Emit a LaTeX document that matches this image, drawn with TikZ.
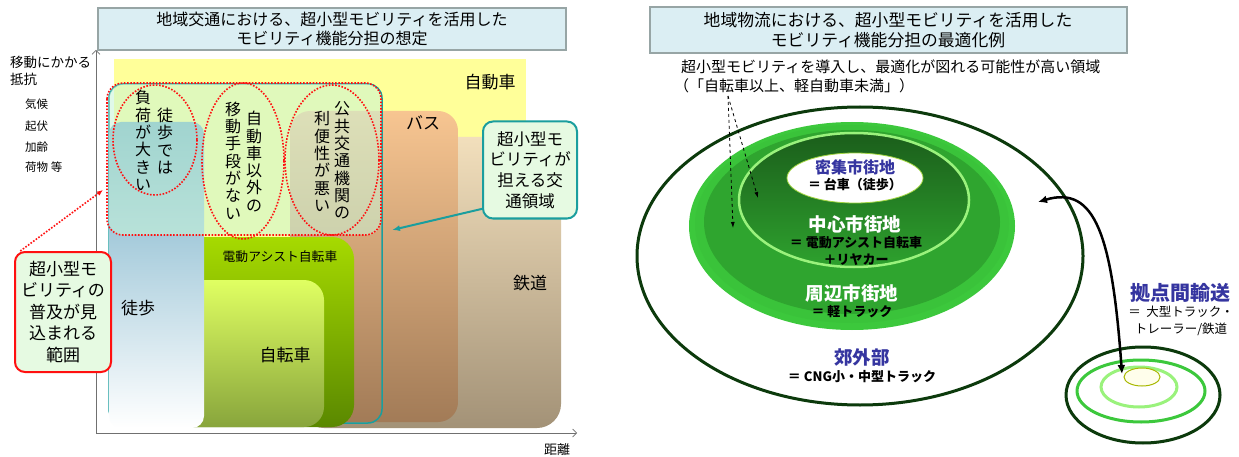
\documentclass[tikz,border=0pt]{standalone}
\usepackage{fontspec}
\setmainfont{Noto Sans CJK JP}
\usetikzlibrary{arrows.meta,shapes.geometric}
\definecolor{ttlfill}{HTML}{DBEEF3}
\definecolor{ttldraw}{HTML}{97A5A5}
\definecolor{yel}{HTML}{FFFF99}
\definecolor{railT}{HTML}{F2DFBC}
\definecolor{railB}{HTML}{A39277}
\definecolor{busT}{HTML}{F7C591}
\definecolor{busB}{HTML}{A27B57}
\definecolor{ebT}{HTML}{A6DA00}
\definecolor{ebB}{HTML}{5A8800}
\definecolor{bkT}{HTML}{E0FF62}
\definecolor{bkB}{HTML}{88A53C}
\definecolor{wk}{HTML}{7EC0DC}
\definecolor{ovl}{HTML}{C8F5D8}
\definecolor{tealc}{HTML}{1A9E9E}
\definecolor{redc}{HTML}{FF1010}
\definecolor{callfill}{HTML}{E6FAE2}
\definecolor{axc}{HTML}{707070}
\definecolor{dkg}{HTML}{0C3A0C}
\definecolor{brg}{HTML}{3CC83C}
\definecolor{gmid}{HTML}{2FA52F}
\definecolor{ltg}{HTML}{9AF27C}
\definecolor{ringT}{HTML}{1B5E1B}
\definecolor{ringB}{HTML}{2EA22E}
\definecolor{bluet}{HTML}{3535A0}
\definecolor{olv}{HTML}{A8B800}
\tikzset{
  ttl/.style={draw=ttldraw, line width=2, fill=ttlfill, align=center, inner sep=0},
  lbl/.style={inner sep=0, font=\fontsize{17}{19}\selectfont},
  vt/.style={inner sep=0, align=center, font=\fontsize{16}{17.3}\selectfont},
  small/.style={inner sep=0, anchor=west, font=\fontsize{11.5}{13}\selectfont},
  reddot/.style={draw=redc, line width=1.6, dash pattern=on 1.6pt off 1.6pt},
  callT/.style={draw=tealc, line width=2, fill=callfill, rounded corners=10, align=center, inner sep=0, font=\fontsize{16.5}{20.7}\selectfont},
  callR/.style={draw=redc, line width=2, fill=callfill, rounded corners=10, align=center, inner sep=0, font=\fontsize{17}{21.5}\selectfont},
  axis/.style={draw=axc, line width=0.7, -{Straight Barb[length=4pt,width=8pt]}},
  dasharrow/.style={draw=black, line width=0.8, dashed, -{Latex[length=6pt,width=4pt]}},
  wlbl/.style={inner sep=0, text=white, font=\bfseries\fontsize{18.5}{20}\selectfont},
  blbl/.style={inner sep=0, text=bluet, font=\bfseries\fontsize{18.5}{20}\selectfont},
  klbl/.style={inner sep=0, text=black, align=center, font=\bfseries\fontsize{13}{16.5}\selectfont}
}
\begin{document}
\begin{tikzpicture}[x=1pt,y=-1pt]
\useasboundingbox (0,0) rectangle (1239,457);
\fill[white] (0,0) rectangle (1239,457);

% ---------------- left diagram ----------------
\node[ttl, minimum width=468, minimum height=42, font=\fontsize{16}{19}\selectfont] (tl) at (332,29)
  {地域交通における、超小型モビリティを活用した\\モビリティ機能分担の想定};

\coordinate (O) at (96,433);
\coordinate (Ytop) at (96,50);
\coordinate (Xend) at (577,433);
\draw[axis] (O) -- (Ytop);
\draw[axis] (O) -- (Xend);
\node[inner sep=0, font=\fontsize{13}{15}\selectfont] (dist) at (557,450) {距離};
\node[inner sep=0, anchor=west, font=\fontsize{13.5}{15}\selectfont] (res1) at (10,62) {移動にかかる};
\node[inner sep=0, anchor=west, font=\fontsize{13.5}{15}\selectfont] (res2) at (10,79) {抵抗};
\node[small] (f1) at (25,104) {気候};
\node[small] (f2) at (25,126) {起伏};
\node[small] (f3) at (25,147) {加齢};
\node[small] (f4) at (25,167) {荷物 等};

% mode areas
\fill[yel] (114,59) rectangle (526,300);
\shade[top color=railT, bottom color=railB, rounded corners=24] (300,137) rectangle (561,428);
\shade[top color=busT, bottom color=busB, rounded corners=20] (290,111) rectangle (458,422);
\draw[tealc, line width=1.5, rounded corners=14] (109,84) rectangle (382,423);
\shade[top color=ebT, bottom color=ebB, rounded corners=22] (130,237) rectangle (354,427);
\shade[top color=bkT, bottom color=bkB, rounded corners=20] (130,280) rectangle (324,427);
\shade[top color=wk!90!black, middle color=wk, bottom color=white, rounded corners=12] (109,122) rectangle (204,428);
\fill[ovl, opacity=0.55, rounded corners=14] (109,84) rectangle (381,235);
\draw[reddot, rounded corners=16] (107,83) rectangle (381,235);
\draw[reddot] (155,140) ellipse (42 and 55);
\draw[reddot] (243,161) ellipse (41 and 78);
\draw[reddot] (332,160) ellipse (47 and 75);

\node[lbl] (car) at (490,82) {自動車};
\node[lbl] (bus) at (423,123) {バス};
\node[lbl] (rail) at (530,283) {鉄道};
\node[lbl] (walk) at (138,308) {徒歩};
\node[lbl] (bike) at (285,355) {自転車};
\node[inner sep=0, font=\fontsize{12.8}{14}\selectfont] (ebike) at (280,257) {電動アシスト自転車};

\node[vt] (v1a) at (143,140.5) {負\\荷\\が\\大\\き\\い};
\node[vt] (v1b) at (165,141) {徒\\歩\\で\\は};
\node[vt] (v2a) at (233,160.5) {移\\動\\手\\段\\が\\な\\い};
\node[vt] (v2b) at (254,161.5) {自\\動\\車\\以\\外\\の};
\node[vt] (v3a) at (322,161.5) {利\\便\\性\\が\\悪\\い};
\node[vt] (v3b) at (342,160.5) {公\\共\\交\\通\\機\\関\\の};

\node[callT, minimum width=94, minimum height=97] (tc) at (530,170) {超小型モ\\ビリティが\\担える交\\通領域};
\coordinate (tcTip) at (392,230);
\draw[tealc, line width=2, -{Latex[length=8pt,width=6pt]}] (tc.-141) -- (tcTip);

\node[callR, minimum width=96, minimum height=120] (rc) at (63,312) {超小型モ\\ビリティの\\普及が見\\込まれる\\範囲};
\coordinate (rcTip) at (103,190);
\draw[reddot, -{Latex[length=6pt,width=5pt]}] (rc.125.6) -- (rcTip);

% ---------------- right diagram ----------------
\node[ttl, minimum width=477, minimum height=46, font=\fontsize{16.8}{20}\selectfont] (tr) at (888,30)
  {地域物流における、超小型モビリティを活用した\\モビリティ機能分担の最適化例};
\node[inner sep=0, anchor=west, font=\fontsize{15}{17}\selectfont] (sub1) at (681,67) {超小型モビリティを導入し、最適化が図れる可能性が高い領域};
\node[inner sep=0, anchor=west, font=\fontsize{15}{17}\selectfont] (sub2) at (674,86) {（「自転車以上、軽自動車未満」）};

\draw[dkg, line width=3] (860,256) ellipse (223 and 149);
\fill[brg] (852,226) ellipse (163 and 104);
\fill[brg!85!gmid] (852,224) ellipse (157 and 99);
\fill[gmid] (852,222) ellipse (148 and 92);
\shade[top color=ringT, bottom color=ringB] (854,200) ellipse (115 and 67);
\draw[ltg, line width=2.5] (854,200) ellipse (115 and 67);
\fill[white] (855,178) ellipse (68 and 25);
\draw[olv!50!ltg, line width=0.8] (855,178) ellipse (68 and 25);

\coordinate (dsrc) at (728,96);
\coordinate (d1) at (733,228);
\coordinate (d2) at (758,198);
\draw[dasharrow] (dsrc) -- (d1);
\draw[dasharrow] (dsrc) -- (d2);

\node[inner sep=0, text=bluet, font=\bfseries\fontsize{16}{18}\selectfont] (m1) at (855,167) {密集市街地};
\node[klbl] (m2) at (855,185) {＝ 台車（徒歩）};
\node[wlbl] (c1) at (855,224) {中心市街地};
\node[klbl] (c2) at (856,251) {＝ 電動アシスト自転車\\＋リヤカー};
\node[wlbl] (p1) at (852,293) {周辺市街地};
\node[klbl] (p2) at (852,312) {＝ 軽トラック};
\node[blbl] (s1) at (862,357) {郊外部};
\node[klbl] (s2) at (862,377) {＝ CNG小・中型トラック};

% hub
\draw[dkg, line width=3] (1143,395) ellipse (77 and 48);
\draw[brg, line width=3] (1141,391) ellipse (64 and 31);
\draw[ltg, line width=3] (1139,387) ellipse (38 and 20);
\draw[olv, fill=yellow!8, line width=1] (1142,377) ellipse (18 and 9);

\coordinate (arrL) at (1038,202);
\coordinate (arrB) at (1122,374);
\draw[black, line width=2.5, {Latex[length=9pt,width=8pt]}-{Latex[length=9pt,width=8pt]}]
  (arrL) .. controls (1095,185) and (1112,235) .. (arrB);

\node[inner sep=0, text=bluet, font=\bfseries\fontsize{20}{22}\selectfont] (hub1) at (1180,293) {拠点間輸送};
\node[inner sep=0, align=center, font=\fontsize{12.5}{17}\selectfont] (hub2) at (1181,321) {＝\ \ 大型トラック・\\トレーラー/鉄道};
\end{tikzpicture}
\end{document}
